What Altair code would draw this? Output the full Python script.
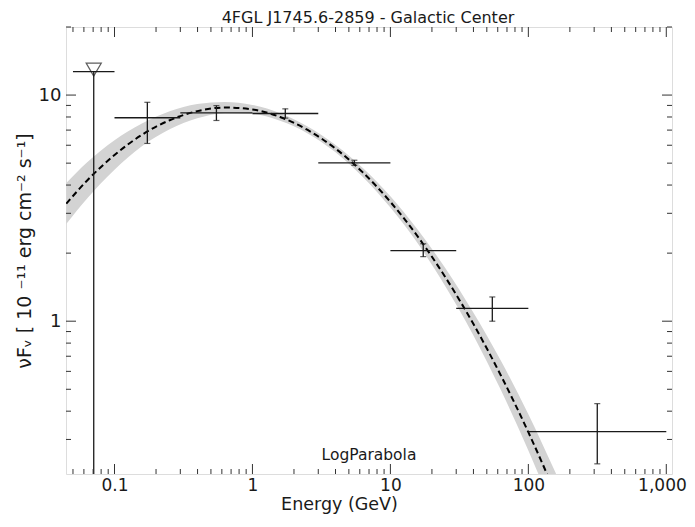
import altair as alt
import pandas as pd

# ---- data ----
# spectral points (GeV, 1e-11 erg cm^-2 s^-1)
e_center = [0.173, 0.548, 1.73, 5.48, 17.3, 54.8, 316]
e_min = [0.1, 0.3, 1, 3, 10, 30, 100]
e_max = [0.3, 1, 3, 10, 30, 100, 1000]
flux = [7.94, 8.35, 8.29, 5.01, 2.05, 1.14, 0.325]
flux_lo = [6.11, 7.72, 7.91, 4.89, 1.93, 1.00, 0.234]
flux_hi = [9.29, 8.98, 8.69, 5.15, 2.20, 1.28, 0.432]

# upper limit bin
ul_center = [0.0707]
ul_min = [0.05]
ul_max = [0.1]
ul_value = [12.7]

# LogParabola model curve and its uncertainty band
model_e = [0.0447, 0.0631, 0.1, 0.158, 0.251, 0.398, 0.631, 1.0, 1.585, 2.512,
           3.981, 6.31, 10.0, 15.85, 25.12, 39.81, 63.1, 100.0, 158.5]
model_f = [3.31, 4.18, 5.43, 6.67, 7.74, 8.49, 8.81, 8.64, 8.00, 7.01,
           5.81, 4.55, 3.37, 2.36, 1.56, 0.976, 0.577, 0.323, 0.171]
band_lo = [2.69, 3.48, 4.68, 5.94, 7.06, 7.89, 8.31, 8.25, 7.69, 6.77,
           5.60, 4.34, 3.18, 2.20, 1.42, 0.870, 0.497, 0.268, 0.137]
band_hi = [4.08, 5.03, 6.31, 7.48, 8.48, 9.14, 9.33, 9.04, 8.32, 7.26,
           6.03, 4.76, 3.57, 2.53, 1.71, 1.095, 0.670, 0.388, 0.212]

# axis ticks
x_major = [0.1, 1, 10, 100, 1000]
x_minor = [0.05, 0.06, 0.07, 0.08, 0.09,
           0.2, 0.3, 0.4, 0.5, 0.6, 0.7, 0.8, 0.9,
           2, 3, 4, 5, 6, 7, 8, 9,
           20, 30, 40, 50, 60, 70, 80, 90,
           200, 300, 400, 500, 600, 700, 800, 900]
y_major = [1, 10]
y_minor = [0.3, 0.4, 0.5, 0.6, 0.7, 0.8, 0.9, 2, 3, 4, 5, 6, 7, 8, 9, 20]

X_DOMAIN = [0.0445, 1100]
Y_DOMAIN = [0.211, 20]

TITLE = "4FGL J1745.6-2859 - Galactic Center"
MODEL_NAME = "LogParabola"

W, H = 606, 447
FONT = "DejaVu Sans"
INK = "#1a1a1a"

pts = pd.DataFrame(dict(e=e_center, emin=e_min, emax=e_max, f=flux, flo=flux_lo, fhi=flux_hi))
ul = pd.DataFrame(dict(e=ul_center, emin=ul_min, emax=ul_max, f=ul_value))
model = pd.DataFrame(dict(e=model_e, f=model_f, lo=band_lo, hi=band_hi))

xs = alt.Scale(type="log", domain=X_DOMAIN, nice=False)
ys = alt.Scale(type="log", domain=Y_DOMAIN, nice=False)

x_axis = alt.Axis(values=x_major, ticks=False, domain=False, grid=False,
                  labelExpr="datum.value >= 1000 ? '1,000' : datum.value >= 1 ? format(datum.value, 'd') : format(datum.value, '.1f')",
                  labelAlign={"condition": {"test": "datum.value >= 1000", "value": "right"}, "value": "center"},
                  labelOffset={"condition": {"test": "datum.value >= 1000", "value": 20}, "value": 0},
                  labelFont=FONT, labelFontSize=17, labelColor=INK, labelPadding=3,
                  title="Energy (GeV)", titleFont=FONT, titleFontSize=17.5,
                  titleFontWeight="normal", titleColor=INK,
                  titleX=273, titleY=35, titleAlign="center", titleBaseline="alphabetic")
y_axis = alt.Axis(values=y_major, ticks=False, domain=False, grid=False,
                  labelExpr="format(datum.value, 'd')",
                  labelFont=FONT, labelFontSize=18, labelColor=INK, labelPadding=5,
                  title="νFᵥ  [ 10 ⁻¹¹ erg cm⁻² s⁻¹]", titleFont=FONT, titleFontSize=19,
                  titleFontWeight="normal", titleColor=INK, titlePadding=4)

band = alt.Chart(model).mark_area(color="#d3d3d3", interpolate="monotone", clip=True).encode(
    x=alt.X("e:Q", scale=xs, axis=x_axis),
    y=alt.Y("lo:Q", scale=ys, axis=y_axis),
    y2="hi:Q",
)
line = alt.Chart(model).mark_line(color="black", strokeDash=[6, 3.5], strokeWidth=2,
                                  interpolate="monotone", clip=True).encode(
    x=alt.X("e:Q", scale=xs), y=alt.Y("f:Q", scale=ys))

hbar = alt.Chart(pts).mark_rule(color=INK, strokeWidth=1.3, clip=True).encode(
    x=alt.X("emin:Q", scale=xs), x2="emax:Q", y=alt.Y("f:Q", scale=ys))
vbar = alt.Chart(pts).mark_rule(color=INK, strokeWidth=1.3, clip=True).encode(
    x=alt.X("e:Q", scale=xs), y=alt.Y("flo:Q", scale=ys), y2="fhi:Q")
cap_hi = alt.Chart(pts).mark_tick(color=INK, orient="horizontal", size=6, thickness=1.2).encode(
    x=alt.X("e:Q", scale=xs), y=alt.Y("fhi:Q", scale=ys))
cap_lo = alt.Chart(pts).mark_tick(color=INK, orient="horizontal", size=6, thickness=1.2).encode(
    x=alt.X("e:Q", scale=xs), y=alt.Y("flo:Q", scale=ys))

ul_h = alt.Chart(ul).mark_rule(color=INK, strokeWidth=1.3, clip=True).encode(
    x=alt.X("emin:Q", scale=xs), x2="emax:Q", y=alt.Y("f:Q", scale=ys))
ul_v = alt.Chart(ul).mark_rule(color=INK, strokeWidth=1.3, clip=True).encode(
    x=alt.X("e:Q", scale=xs), y=alt.Y("f:Q", scale=ys), y2=alt.datum(0.1))
ul_m = alt.Chart(ul).mark_point(shape="triangle-down", size=230, filled=False,
                                color=INK, strokeWidth=1.2, yOffset=-2).encode(
    x=alt.X("e:Q", scale=xs), y=alt.Y("f:Q", scale=ys))

label = alt.Chart(pd.DataFrame({"t": [MODEL_NAME]})).mark_text(
    font=FONT, fontSize=15.5, color=INK, baseline="middle", align="center").encode(
    text="t:N", x=alt.value(W / 2), y=alt.value(H - 19))

title = alt.Chart(pd.DataFrame({"t": [TITLE]})).mark_text(
    font=FONT, fontSize=16, color=INK, baseline="alphabetic", align="center").encode(
    text="t:N", x=alt.value(W / 2 - 1), y=alt.value(-4))

TICK = dict(color="#333333", strokeWidth=1)
def xticks(vals, length):
    d = pd.DataFrame({"v": vals})
    b = alt.Chart(d).mark_rule(**TICK).encode(x=alt.X("v:Q", scale=xs), y=alt.value(H), y2=alt.value(H - length))
    t = alt.Chart(d).mark_rule(**TICK).encode(x=alt.X("v:Q", scale=xs), y=alt.value(0), y2=alt.value(length))
    return [b, t]
def yticks(vals, length):
    d = pd.DataFrame({"v": vals})
    l = alt.Chart(d).mark_rule(**TICK).encode(y=alt.Y("v:Q", scale=ys), x=alt.value(0), x2=alt.value(length))
    r = alt.Chart(d).mark_rule(**TICK).encode(y=alt.Y("v:Q", scale=ys), x=alt.value(W), x2=alt.value(W - length))
    return [l, r]

ticks = xticks(x_major, 10) + xticks(x_minor, 5) + yticks(y_major, 10) + yticks(y_minor, 5)

chart = alt.layer(band, line, hbar, vbar, cap_hi, cap_lo, ul_h, ul_v, ul_m, label, title, *ticks).properties(
    width=W, height=H,
    autosize=alt.AutoSizeParams(type="none"),
    padding={"left": 58, "top": 19, "right": 15, "bottom": 40},
).configure_view(stroke="#333333", strokeWidth=1.2).configure(background="white")

chart.save("out.html", embed_options={"renderer": "svg", "actions": False})
